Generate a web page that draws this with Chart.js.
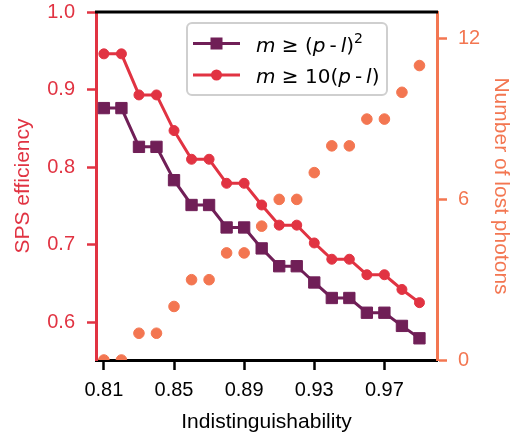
<!DOCTYPE html>
<html>
<head>
<meta charset="utf-8">
<script src="https://cdn.jsdelivr.net/npm/chart.js@4/dist/chart.umd.min.js"></script>
<style>
  html, body { margin: 0; padding: 0; background: #fff; }
</style>
</head>
<body>
<canvas id="chart" width="514" height="435"></canvas>
<script>
// data
const indist = [0.81, 0.82, 0.83, 0.84, 0.85, 0.86, 0.87, 0.88, 0.89, 0.90,
  0.91, 0.92, 0.93, 0.94, 0.95, 0.96, 0.97, 0.98, 0.99];
const effSquare = [0.876, 0.876, 0.826, 0.826, 0.783, 0.751, 0.751, 0.722, 0.722, 0.695,
  0.672, 0.672, 0.651, 0.631, 0.631, 0.612, 0.612, 0.595, 0.579];
const effTen = [0.946, 0.946, 0.893, 0.893, 0.847, 0.810, 0.810, 0.779, 0.779, 0.751,
  0.725, 0.725, 0.702, 0.681, 0.681, 0.661, 0.661, 0.642, 0.625];
const lostPhotons = [0, 0, 1, 1, 2, 3, 3, 4, 4, 5, 6, 6, 7, 8, 8, 9, 9, 10, 11];

const xTicks = [0.81, 0.85, 0.89, 0.93, 0.97];
const effTicks = [0.6, 0.7, 0.8, 0.9, 1.0];
const lostTicks = [0, 6, 12];

// legend text pieces: [text, style] where style is 'i' italic, 'r' roman, 's' superscript
const legendSquare = [['m', 'i'], [' \u2265 (', 'r'], ['p', 'i'], ['\u2009-\u2009', 'r'], ['l', 'i'], [')', 'r'], ['2', 's']];
const legendTen = [['m', 'i'], [' \u2265 10(', 'r'], ['p', 'i'], ['\u2009-\u2009', 'r'], ['l', 'i'], [')', 'r']];

const PURPLE = '#701f57';
const RED = '#e13342';
const ORANGE = '#f37651';
const TICK_FONT = { family: '"Liberation Sans", Arial, sans-serif', size: 20 };
const TITLE_FONT = { family: '"Liberation Sans", Arial, sans-serif', size: 21 };

const toPoints = (ys) => indist.map((x, i) => ({ x: x, y: ys[i] }));

// stop chart.js from reserving room for the end tick labels
const noPad = (axis) => {
  axis.paddingTop = 0;
  axis.paddingBottom = 0;
  axis.paddingLeft = 0;
  axis.paddingRight = 0;
};

// top spine + legend box drawn on top of everything
const extras = {
  id: 'extras',
  afterDraw(chart) {
    const ctx = chart.ctx;
    const area = chart.chartArea;
    ctx.save();
    ctx.strokeStyle = '#000';
    ctx.lineWidth = 3;
    ctx.beginPath();
    ctx.moveTo(area.left - 1, area.top);
    ctx.lineTo(area.right + 1, area.top);
    ctx.stroke();

    // legend frame
    const bx = 187, by = 23, bw = 200, bh = 72;
    ctx.fillStyle = 'rgba(255,255,255,0.9)';
    ctx.strokeStyle = '#cfcfcf';
    ctx.lineWidth = 2;
    ctx.beginPath();
    ctx.roundRect(bx, by, bw, bh, 5);
    ctx.fill();
    ctx.stroke();

    const rows = [
      { segs: legendSquare, color: PURPLE, shape: 'rect', y: 43.5 },
      { segs: legendTen, color: RED, shape: 'circle', y: 75 },
    ];
    rows.forEach((row) => {
      ctx.strokeStyle = row.color;
      ctx.fillStyle = row.color;
      ctx.lineWidth = 3;
      ctx.beginPath();
      ctx.moveTo(193, row.y);
      ctx.lineTo(240, row.y);
      ctx.stroke();
      if (row.shape === 'rect') {
        ctx.fillRect(216.5 - 6, row.y - 6, 12, 12);
      } else {
        ctx.beginPath();
        ctx.arc(216.5, row.y, 5.5, 0, Math.PI * 2);
        ctx.fill();
      }
      // mixed italic / roman text
      let x = 256;
      ctx.fillStyle = '#000';
      ctx.textBaseline = 'alphabetic';
      ctx.textAlign = 'left';
      const base = row.y + 8;
      row.segs.forEach(([t, style]) => {
        if (style === 'i') ctx.font = 'italic 20px "DejaVu Sans"';
        else if (style === 's') ctx.font = '14px "DejaVu Sans"';
        else ctx.font = '20px "DejaVu Sans"';
        const yy = style === 's' ? base - 9 : base;
        ctx.fillText(t, x, yy);
        x += ctx.measureText(t).width;
      });
    });
    ctx.restore();
  },
};

const ctx = document.getElementById('chart').getContext('2d');

new Chart(ctx, {
  type: 'line',
  data: {
    datasets: [
      {
        label: 'm >= (p-l)^2',
        data: toPoints(effSquare),
        yAxisID: 'y',
        borderColor: PURPLE,
        backgroundColor: PURPLE,
        borderWidth: 3,
        pointStyle: 'rect',
        pointRadius: 8,
        pointBorderWidth: 1,
        pointBorderColor: PURPLE,
        tension: 0,
        order: 1,
      },
      {
        label: 'm >= 10(p-l)',
        data: toPoints(effTen),
        yAxisID: 'y',
        borderColor: RED,
        backgroundColor: RED,
        borderWidth: 3,
        pointStyle: 'circle',
        pointRadius: 5,
        pointBorderWidth: 1,
        pointBorderColor: RED,
        tension: 0,
        order: 2,
      },
      {
        label: 'Number of lost photons',
        data: toPoints(lostPhotons),
        yAxisID: 'y1',
        showLine: false,
        borderColor: ORANGE,
        backgroundColor: ORANGE,
        pointStyle: 'circle',
        pointRadius: 5.3,
        pointBorderWidth: 1,
        pointBorderColor: ORANGE,
        order: 3,
      },
    ],
  },
  options: {
    responsive: false,
    animation: false,
    devicePixelRatio: 1,
    layout: { padding: { top: 12, left: 0, right: 0, bottom: 0 } },
    plugins: {
      legend: { display: false },
      tooltip: { enabled: false },
    },
    scales: {
      x: {
        type: 'linear',
        position: 'bottom',
        min: 0.8055,
        max: 1.0,
        z: 1,
        afterBuildTicks: (axis) => { axis.ticks = xTicks.map((v) => ({ value: v })); },
        afterFit: (axis) => { axis.height = 75; noPad(axis); },
        grid: { drawOnChartArea: false, tickLength: 10, tickWidth: 2.5, tickColor: '#000' },
        border: { color: '#000', width: 3 },
        ticks: {
          color: '#000',
          font: TICK_FONT,
          padding: 8,
          maxRotation: 0,
          callback: (v) => v.toFixed(2),
        },
        title: {
          display: true,
          text: 'Indistinguishability',
          color: '#000',
          font: TITLE_FONT,
          padding: { top: 3, bottom: 0 },
        },
      },
      y: {
        position: 'left',
        min: 0.551,
        max: 1.0,
        z: 1,
        afterBuildTicks: (axis) => { axis.ticks = effTicks.map((v) => ({ value: v })); },
        afterFit: (axis) => { axis.width = 96; noPad(axis); },
        grid: { drawOnChartArea: false, tickLength: 9, tickWidth: 2.5, tickColor: RED },
        border: { color: RED, width: 3 },
        ticks: {
          color: RED,
          font: TICK_FONT,
          padding: 12,
          callback: (v) => v.toFixed(1),
        },
        title: {
          display: true,
          text: 'SPS efficiency',
          color: RED,
          font: TITLE_FONT,
          padding: { top: 11, bottom: 0 },
        },
      },
      y1: {
        position: 'right',
        min: 0,
        max: 13,
        z: 1,
        afterBuildTicks: (axis) => { axis.ticks = lostTicks.map((v) => ({ value: v })); },
        afterFit: (axis) => { axis.width = 77; noPad(axis); },
        grid: { drawOnChartArea: false, tickLength: 10, tickWidth: 2.5, tickColor: ORANGE },
        border: { color: ORANGE, width: 3 },
        ticks: {
          color: ORANGE,
          font: TICK_FONT,
          padding: 11,
          callback: (v) => String(v),
        },
        title: {
          display: true,
          text: 'Number of lost photons',
          color: ORANGE,
          font: TITLE_FONT,
          padding: { top: 1, bottom: 0 },
        },
      },
    },
  },
  plugins: [extras],
});
</script>
</body>
</html>
